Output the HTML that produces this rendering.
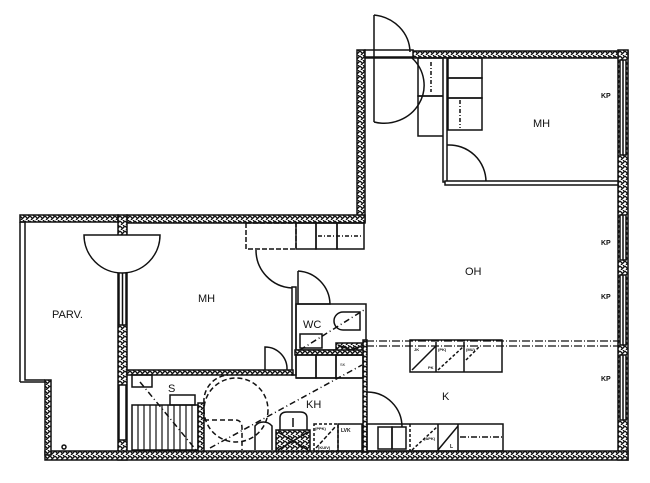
<!DOCTYPE html>
<html><head><meta charset="utf-8"><style>
html,body{margin:0;padding:0;background:#fff;}
svg{display:block;}
text{font-family:"Liberation Sans",sans-serif;fill:#111;}
</style></head><body>
<svg width="650" height="483" viewBox="0 0 650 483" xmlns="http://www.w3.org/2000/svg">
<defs>
<pattern id="h" width="5" height="5" patternUnits="userSpaceOnUse">
<rect width="5" height="5" fill="#fff"/>
<path d="M0 1 L3 4 M3 0 L5 2 M1 5 L4 2" stroke="#111" stroke-width="1.3"/>
</pattern>
</defs>
<g stroke="#111" stroke-width="1.5" fill="none">
<!-- walls -->
<rect x="357" y="50" width="8" height="172" fill="url(#h)"/>
<rect x="365" y="51" width="263" height="7" fill="url(#h)"/>
<rect x="618" y="50" width="10" height="410" fill="url(#h)"/>
<rect x="20" y="215" width="98" height="7" fill="url(#h)"/>
<rect x="127" y="215" width="238" height="8" fill="url(#h)"/>
<rect x="118" y="215" width="9" height="245" fill="url(#h)"/>
<rect x="45" y="451" width="583" height="9" fill="url(#h)"/>
<rect x="45" y="380" width="6" height="75" fill="url(#h)"/>
<!-- windows in right wall -->
<rect x="620" y="60" width="6" height="95" fill="#fff"/>
<line x1="623" y1="60" x2="623" y2="155"/>
<rect x="620" y="215" width="6" height="45" fill="#fff"/>
<line x1="623" y1="215" x2="623" y2="260"/>
<rect x="620" y="275" width="6" height="70" fill="#fff"/>
<line x1="623" y1="275" x2="623" y2="345"/>
<rect x="620" y="355" width="6" height="65" fill="#fff"/>
<line x1="623" y1="355" x2="623" y2="420"/>
<!-- balcony window in left wall -->
<rect x="119" y="240" width="7" height="85" fill="#fff"/>
<line x1="122.5" y1="240" x2="122.5" y2="325"/>
<rect x="119" y="385" width="7" height="55" fill="#fff"/>
<!-- balcony outline -->
<polyline points="20,222 25,222 25,380 45,380"/>
<line x1="20" y1="222" x2="20" y2="382"/>
<line x1="20" y1="382" x2="45" y2="382"/>
<circle cx="64" cy="447" r="2"/>
<!-- balcony door -->
<path d="M84 235 A38 38 0 0 0 160 235 Z" fill="#fff"/>
<!-- entrance door top -->
<rect x="365" y="50" width="48" height="7" fill="#fff"/>
<line x1="374" y1="15" x2="374" y2="122"/>
<path d="M374 15 A40 38 0 0 1 410 52" />
<path d="M374 122 A40 38 0 0 0 412 58" />
<!-- MH top room wardrobes -->
<rect x="418" y="58" width="26" height="38"/>
<rect x="418" y="96" width="26" height="40"/>
<line x1="431" y1="62" x2="431" y2="92" stroke-dasharray="4,2,1,2"/>
<rect x="448" y="58" width="34" height="20"/>
<rect x="448" y="78" width="34" height="20"/>
<rect x="448" y="98" width="34" height="32"/>
<line x1="460" y1="100" x2="460" y2="128" stroke-dasharray="4,2,1,2"/>
<rect x="443" y="58" width="4" height="124" fill="#fff"/>
<path d="M447 145 A37 37 0 0 1 486 182"/>
<rect x="445" y="181" width="173" height="4" fill="#fff"/>
<!-- MH left closets -->
<rect x="246" y="223" width="50" height="26" stroke-dasharray="5,2"/>
<rect x="296" y="223" width="20" height="26"/>
<rect x="316" y="223" width="21" height="26"/>
<rect x="337" y="223" width="27" height="26"/>
<line x1="318" y1="236" x2="362" y2="236" stroke-dasharray="4,2,1,2"/>
<path d="M256 250 A38 38 0 0 0 292 288"/>
<!-- WC -->
<rect x="292" y="287" width="4" height="88" fill="#fff"/>
<rect x="296" y="304" width="70" height="46"/>
<path d="M298 271 L298 304 L330 304 A34 34 0 0 0 298 271" />
<path d="M343 312 L360 312 L360 330 L343 330 A9 9 0 0 1 343 312Z"/>
<rect x="300" y="334" width="22" height="14"/>
<line x1="300" y1="350" x2="364" y2="310" stroke-dasharray="6,3,1,3"/>
<rect x="336" y="343" width="30" height="12" fill="url(#h)"/>
<path d="M338 345 L364 355 M364 345 L338 355"/>
<rect x="295" y="350" width="71" height="5" fill="url(#h)"/>
<rect x="363" y="340" width="4" height="112" fill="url(#h)"/>
<rect x="296" y="355" width="20" height="23"/>
<rect x="316" y="355" width="20" height="23"/>
<rect x="336" y="355" width="27" height="23"/>
<line x1="296" y1="378" x2="363" y2="378"/>
<text x="340" y="366" font-size="4" stroke="none">SK</text>
<!-- MH bottom wall -->
<rect x="127" y="370" width="166" height="5" fill="url(#h)"/>
<path d="M265 370 L265 347 A22 22 0 0 1 287 370"/>
<!-- Sauna -->
<rect x="132" y="375" width="20" height="12"/>
<rect x="170" y="395" width="25" height="10"/>
<rect x="132" y="405" width="66" height="45"/>
<g stroke-width="1.2">
<line x1="138" y1="405" x2="138" y2="450"/><line x1="144" y1="405" x2="144" y2="450"/><line x1="150" y1="405" x2="150" y2="450"/><line x1="156" y1="405" x2="156" y2="450"/><line x1="162" y1="405" x2="162" y2="450"/><line x1="168" y1="405" x2="168" y2="450"/><line x1="174" y1="405" x2="174" y2="450"/><line x1="180" y1="405" x2="180" y2="450"/><line x1="186" y1="405" x2="186" y2="450"/><line x1="192" y1="405" x2="192" y2="450"/>
</g>
<rect x="198" y="403" width="6" height="48" fill="url(#h)"/>
<line x1="140" y1="382" x2="196" y2="450" stroke-dasharray="6,3,1,3"/>
<!-- KH -->
<path d="M204 403 A26 26 0 0 1 228 375" stroke-dasharray="5,3"/>
<circle cx="236" cy="410" r="32" stroke-dasharray="5,3"/>
<path d="M204 420 L235 420 Q242 420 242 428 L242 450" stroke-dasharray="5,3"/>
<line x1="210" y1="448" x2="362" y2="365" stroke-dasharray="6,3,1,3"/>
<path d="M255 450 L255 426 A11 11 0 0 1 272 426 L272 450"/>
<rect x="276" y="430" width="34" height="21" fill="url(#h)"/>
<path d="M278 432 L308 450 M308 432 L278 450"/>
<path d="M280 430 L280 418 Q280 412 287 412 L300 412 Q307 412 307 418 L307 430"/>
<line x1="293" y1="427" x2="293" y2="418"/>
<rect x="314" y="424" width="24" height="27" stroke-dasharray="3,2"/>
<rect x="338" y="424" width="24" height="27"/>
<line x1="316" y1="448" x2="336" y2="426" stroke-dasharray="4,2"/>
<!-- Kitchen -->
<path d="M367 392 A35 35 0 0 1 402 427"/>
<line x1="366" y1="341" x2="620" y2="341" stroke-dasharray="8,2,1,2" stroke-width="1.2"/>
<line x1="366" y1="346" x2="620" y2="346" stroke-dasharray="8,2,1,2" stroke-width="1.2"/>
<rect x="410" y="340" width="92" height="32"/>
<line x1="436" y1="342" x2="436" y2="372"/><line x1="464" y1="342" x2="464" y2="372"/>
<line x1="412" y1="370" x2="436" y2="346"/><line x1="438" y1="370" x2="464" y2="346" stroke-dasharray="3,2"/>
<line x1="466" y1="360" x2="480" y2="346" stroke-dasharray="3,2"/>
<rect x="367" y="424" width="136" height="27"/>
<rect x="378" y="427" width="14" height="22"/><rect x="392" y="427" width="14" height="22"/>
<line x1="410" y1="424" x2="410" y2="451" stroke-dasharray="3,2"/>
<line x1="438" y1="424" x2="438" y2="451"/><line x1="458" y1="424" x2="458" y2="451"/>
<line x1="412" y1="450" x2="438" y2="426" stroke-dasharray="3,2"/><line x1="438" y1="450" x2="458" y2="426"/>
<line x1="460" y1="437" x2="502" y2="437" stroke-dasharray="6,2,1,2"/>
</g>
<!-- labels -->
<g font-size="11">
<text x="533" y="127">MH</text>
<text x="465" y="275">OH</text>
<text x="198" y="302">MH</text>
<text x="52" y="318">PARV.</text>
<text x="303" y="328">WC</text>
<text x="306" y="408">KH</text>
<text x="168" y="392">S</text>
<text x="442" y="400">K</text>
</g>
<g font-size="7" font-weight="bold">
<text x="601" y="98">KP</text>
<text x="601" y="245">KP</text>
<text x="601" y="299">KP</text>
<text x="601" y="381">KP</text>
<text x="341" y="432" font-size="5">LVK</text>
<text x="414" y="351" font-size="4">JK</text>
<text x="438" y="351" font-size="4">(PK)</text>
<text x="466" y="351" font-size="4">(MU)</text>
<text x="428" y="369" font-size="4">PK</text>
<text x="315" y="430" font-size="4">(PPK)</text>
<text x="318" y="449" font-size="4">(KUIV)</text>
<text x="424" y="440" font-size="4">(APK)</text>
<text x="450" y="448" font-size="5">L</text>
</g>
</svg>
</body></html>
